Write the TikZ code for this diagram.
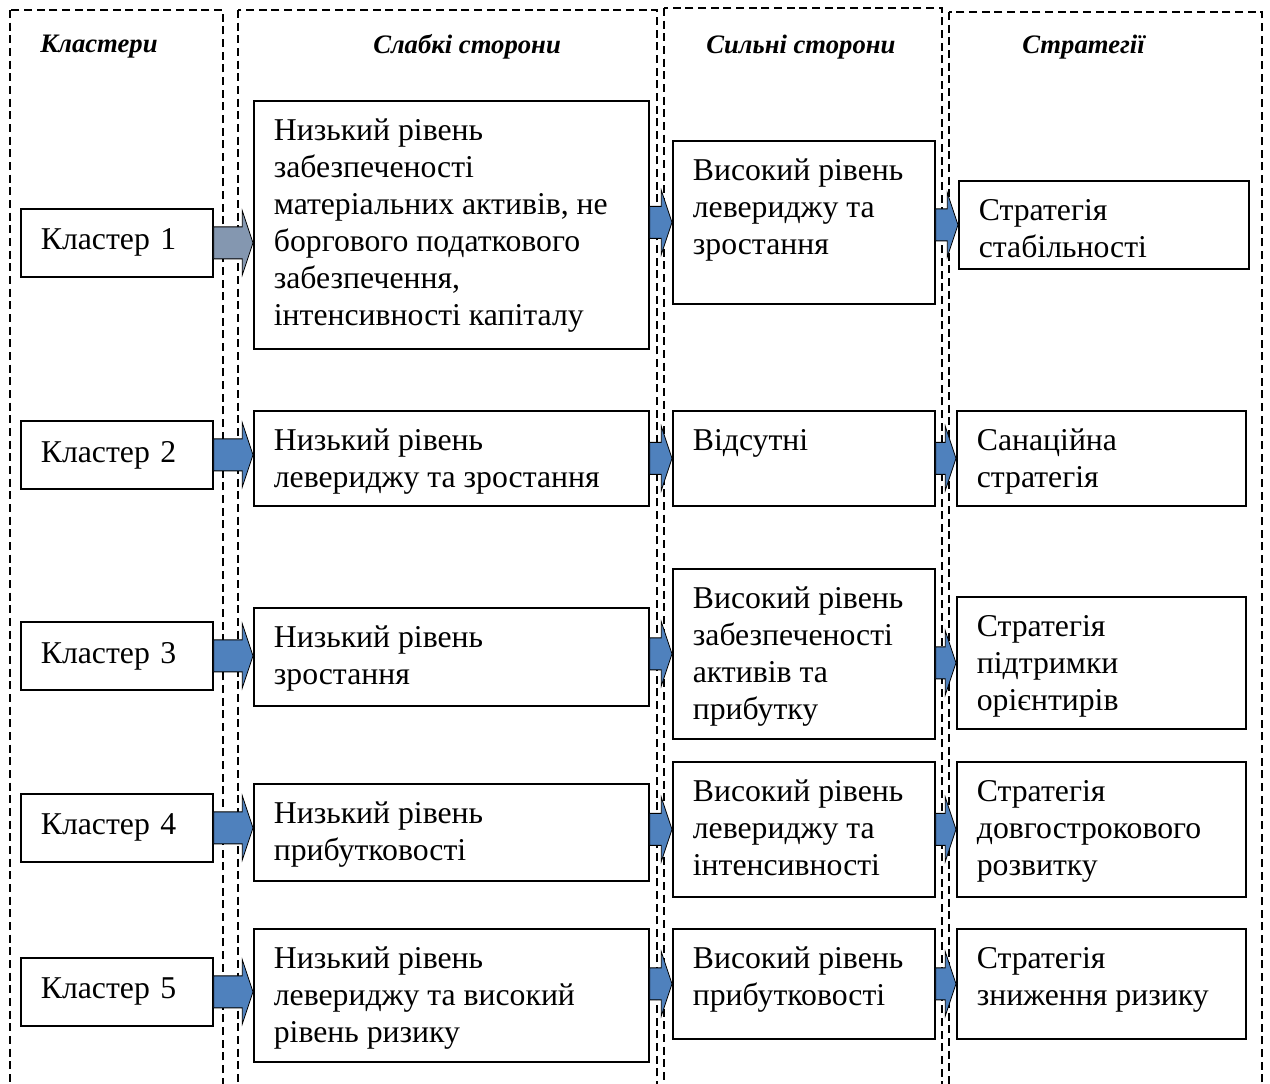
\documentclass[tikz,border=0pt]{standalone}
\usepackage{fontspec}
\setmainfont{Liberation Serif}
\usepackage{tikz}
\usetikzlibrary{calc}
\definecolor{arrowblue}{RGB}{79,129,189}
\definecolor{arrowgrey}{RGB}{132,151,176}
\newlength{\pxu}\setlength{\pxu}{0.75pt}
% top aligned cell text: width, height (px), lines
\newcommand{\cell}[3]{\parbox[t][#2\pxu][t]{#1\pxu}{\raggedright\rule{0pt}{30pt}#3}}
% block arrow from one box to the next, at the height of a given box
\newcommand{\blockarrow}[4][arrowblue]{%
	\draw[blockarr, fill=#1] let \p1=(#2.east), \p2=(#3.west), \p3=(#4.center) in
		(\x1,\y3+12pt) -- (\x2-8pt,\y3+12pt) -- (\x2-8pt,\y3+24pt) -- (\x2,\y3)
		-- (\x2-8pt,\y3-24pt) -- (\x2-8pt,\y3-12pt) -- (\x1,\y3-12pt) -- cycle;}
\tikzset{
	colframe/.style={draw, line width=1pt, dash pattern=on 6pt off 3.5pt},
	headtext/.style={anchor=west, inner sep=0pt, font=\fontsize{20}{24}\selectfont\bfseries\itshape},
	clusterbox/.style={draw, line width=1.3pt, anchor=north west, text width=114pt, minimum height=51pt, inner xsep=15pt, align=left, font=\fontsize{23.8}{27.75}\selectfont},
	cellbox/.style={draw, line width=1.3pt, anchor=north west, inner xsep=15pt, inner ysep=0pt, font=\fontsize{23.8}{27.75}\selectfont},
	blockarr/.style={draw=black, line width=0.6pt, line join=miter},
}
\begin{document}
\begin{tikzpicture}[x=0.75pt, y=-0.75pt]
	\useasboundingbox (0,0) rectangle (1270,1083);
	\clip (0,0) rectangle (1270,1083);

	% Columns
	\draw[colframe] (10,10) rectangle (223,1100);
	\draw[colframe] (238,10) rectangle (657,1100);
	\draw[colframe] (664,8) rectangle (942,1100);
	\draw[colframe] (949,12) rectangle (1262,1100);

	% Headers
	\node[headtext] (hclust) at (40,47) {Кластери};
	\node[headtext] (hweak) at (373,47) {Слабкі сторони};
	\node[headtext] (hstrong) at (706,47) {Сильні сторони};
	\node[headtext] (hstrat) at (1022,47) {Стратегії};

	% Clusters
	\node[clusterbox] (k1) at (20,208) {Кластер 1};
	\node[clusterbox] (k2) at (20,420) {Кластер 2};
	\node[clusterbox] (k3) at (20,621) {Кластер 3};
	\node[clusterbox] (k4) at (20,793) {Кластер 4};
	\node[clusterbox] (k5) at (20,957) {Кластер 5};

	% Weak sides
	\node[cellbox] (w1) at (253,100) {\cell{355}{248}{Низький рівень\\забезпеченості\\матеріальних активів, не\\боргового податкового\\забезпечення,\\інтенсивності капіталу}};
	\node[cellbox] (w2) at (253,410) {\cell{355}{95}{Низький рівень\\левериджу та зростання}};
	\node[cellbox] (w3) at (253,607) {\cell{355}{98}{Низький рівень\\зростання}};
	\node[cellbox] (w4) at (253,783) {\cell{355}{97}{Низький рівень\\прибутковості}};
	\node[cellbox] (w5) at (253,928) {\cell{355}{133}{Низький рівень\\левериджу та високий\\рівень ризику}};

	% Strong sides
	\node[cellbox] (s1) at (672,140) {\cell{222}{163}{Високий рівень\\левериджу та\\зростання}};
	\node[cellbox] (s2) at (672,410) {\cell{222}{95}{Відсутні}};
	\node[cellbox] (s3) at (672,568) {\cell{222}{170}{Високий рівень\\забезпеченості\\активів та\\прибутку}};
	\node[cellbox] (s4) at (672,761) {\cell{222}{135}{Високий рівень\\левериджу та\\інтенсивності}};
	\node[cellbox] (s5) at (672,928) {\cell{222}{110}{Високий рівень\\прибутковості}};

	% Strategies
	\node[cellbox] (t1) at (958,180) {\cell{250}{88}{Стратегія\\стабільності}};
	\node[cellbox] (t2) at (956,410) {\cell{249}{95}{Санаційна\\стратегія}};
	\node[cellbox] (t3) at (956,596) {\cell{249}{132}{Стратегія\\підтримки\\орієнтирів}};
	\node[cellbox] (t4) at (956,761) {\cell{249}{135}{Стратегія\\довгострокового\\розвитку}};
	\node[cellbox] (t5) at (956,928) {\cell{249}{110}{Стратегія\\зниження ризику}};

	% Arrows
	\blockarrow[arrowgrey]{k1}{w1}{k1}
	\blockarrow{k2}{w2}{k2}
	\blockarrow{k3}{w3}{k3}
	\blockarrow{k4}{w4}{k4}
	\blockarrow{k5}{w5}{k5}
	\blockarrow{w1}{s1}{s1}
	\blockarrow{w2}{s2}{s2}
	\blockarrow{w3}{s3}{s3}
	\blockarrow{w4}{s4}{s4}
	\blockarrow{w5}{s5}{s5}
	\blockarrow{s1}{t1}{t1}
	\blockarrow{s2}{t2}{t2}
	\blockarrow{s3}{t3}{t3}
	\blockarrow{s4}{t4}{t4}
	\blockarrow{s5}{t5}{t5}
\end{tikzpicture}
\end{document}
